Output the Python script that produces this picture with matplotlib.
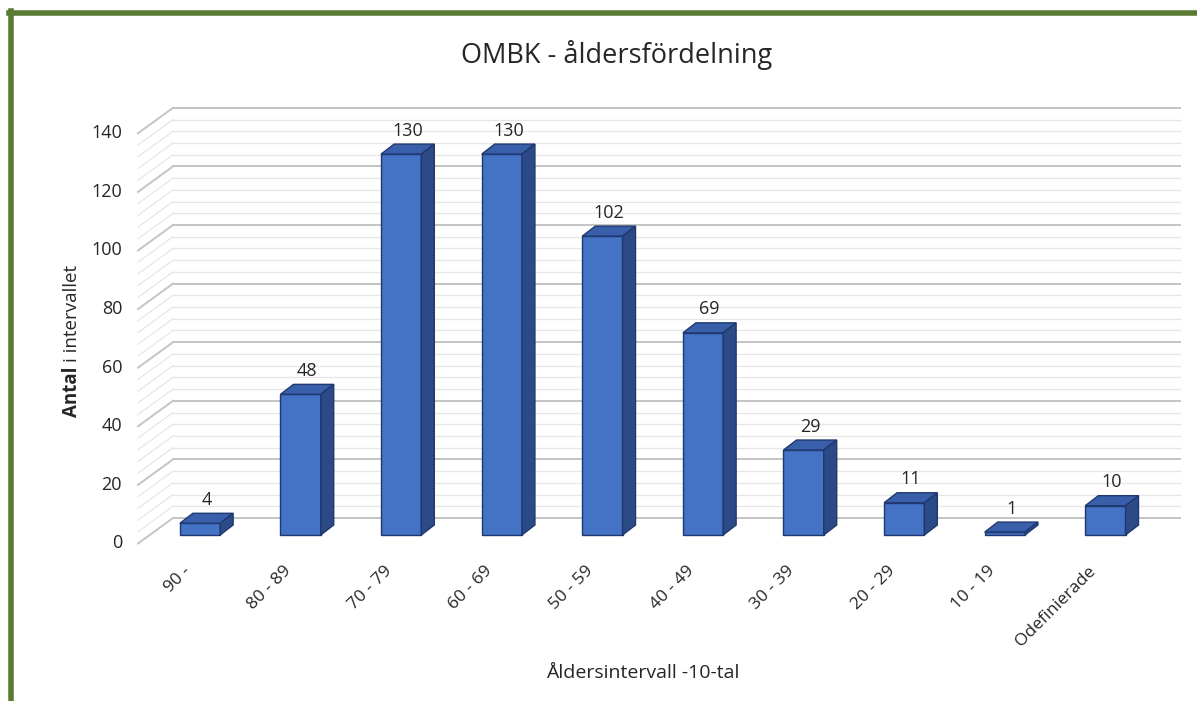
import numpy as np
import matplotlib
matplotlib.use('Agg')
import matplotlib.pyplot as plt
from matplotlib.patches import Polygon
from matplotlib.lines import Line2D

plt.rcParams['font.family'] = ['Open Sans', 'DejaVu Sans']

# data
categories = ['90 -', '80 - 89', '70 - 79', '60 - 69', '50 - 59',
              '40 - 49', '30 - 39', '20 - 29', '10 - 19', 'Odefinierade']
counts = [4, 48, 130, 130, 102, 69, 29, 11, 1, 10]
yticks = [0, 20, 40, 60, 80, 100, 120, 140]
title = 'OMBK - åldersfördelning'
xlabel = 'Åldersintervall -10-tal'

W, H = 1197, 701
fig = plt.figure(figsize=(W / 100, H / 100), dpi=100)
ax = fig.add_axes([0, 0, 1, 1])

# one category = 100.6 px, one count = 2.93 px
px_x, px_y = 100.6, 2.93
x0_px, y0_px = 200, H - 535
ax.set_xlim(-x0_px / px_x, (W - x0_px) / px_x)
ax.set_ylim(-y0_px / px_y, (H - y0_px) / px_y)
ax.axis('off')

# fake 3D walls
front_dy, back_dy = -2.9, 5.8
front_x, back_x, right_x = (138 - 200) / px_x, (173 - 200) / px_x, (1180 - 200) / px_x
for g in np.arange(0, 141, 4):
    major = g % 20 == 0
    col = '#c4c4c4' if major else '#e6e6e6'
    lw = 1.4 if major else 0.9
    ax.plot([front_x, back_x], [g + front_dy, g + back_dy], color=col, lw=lw, zorder=1)
    ax.plot([back_x, right_x], [g + back_dy, g + back_dy], color=col, lw=lw, zorder=1)

for t in yticks:
    ax.text((122 - 200) / px_x, t + front_dy, str(t), ha='right', va='center',
            fontsize=13, color='#262626')

# bars with top and side faces
bw = 0.4
ddx, ddy = 13 / px_x, 10 / px_y
xs = np.arange(len(categories))
ax.bar(xs, counts, width=bw, color='#4472c4', edgecolor='#1f3870', linewidth=1, zorder=3)
for x, v in zip(xs, counts):
    l, r = x - bw / 2, x + bw / 2
    top = Polygon([(l, v), (r, v), (r + ddx, v + ddy), (l + ddx, v + ddy)],
                  closed=True, fc='#3a5faa', ec='#1f3870', lw=1, zorder=3)
    side = Polygon([(r, 0), (r, v), (r + ddx, v + ddy), (r + ddx, ddy)],
                   closed=True, fc='#2b4a86', ec='#1f3870', lw=1, zorder=3)
    ax.add_patch(top)
    ax.add_patch(side)
    ax.text(x + 0.065, v + ddy + 1.5, str(v), ha='center', va='bottom',
            fontsize=13, color='#262626', zorder=4)

for x, lab in zip(xs, categories):
    ax.text(x - 0.06, -9.5, lab, rotation=45, ha='right', va='top',
            fontsize=12.5, color='#262626')

fig.text(617 / W, 1 - 55 / H, title, ha='center', va='center', fontsize=19.5, color='#262626')
fig.text(643 / W, 1 - 673 / H, xlabel, ha='center', va='center', fontsize=14, color='#262626')

# y label, bold first word
t1 = fig.text(72 / W, 1 - 417 / H, 'Antal', rotation=90, ha='center', va='bottom',
              fontsize=13.5, fontweight='bold', color='#262626')
fig.canvas.draw()
bb = t1.get_window_extent()
fig.text(72 / W, (bb.y1 + 4) / H, 'i intervallet', rotation=90, ha='center', va='bottom',
         fontsize=13.5, color='#262626')

# green frame
fig.add_artist(Line2D([9 / W, 1.0], [1 - 13 / H, 1 - 13 / H], color='#5b7a34', lw=4))
fig.add_artist(Line2D([11 / W, 11 / W], [0, 1 - 11 / H], color='#5b7a34', lw=4))

fig.savefig('out.png', dpi=100)
